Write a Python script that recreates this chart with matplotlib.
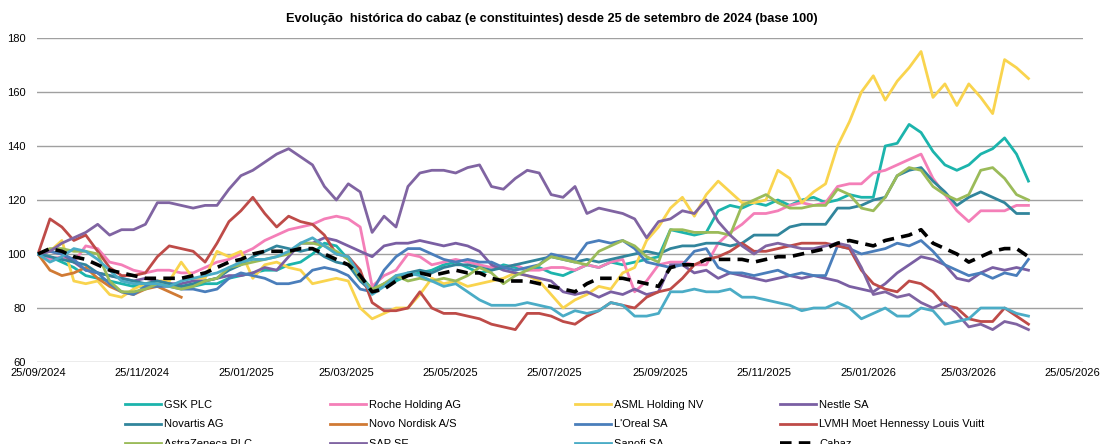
import numpy as np
import pandas as pd
import matplotlib
matplotlib.use("Agg")
import matplotlib.pyplot as plt
import matplotlib.dates as mdates

plt.rcParams['font.family'] = ['Liberation Sans', 'DejaVu Sans']

dates = pd.date_range('2024-09-25', periods=84, freq='7D')

gsk = [100,99,97,95,92,91,90,89,88,88,
       88,89,88,88,89,89,91,92,93,94,
       94,96,97,100,104,103,98,92,87,88,
       90,92,93,94,96,97,95,93,94,96,
       95,94,95,93,92,94,96,95,97,96,
       97,98,99,109,108,107,108,116,118,117,
       119,118,120,118,120,121,119,120,122,121,
       121,140,141,148,145,138,133,131,133,137,
       139,143,137,127]
roche = [100,98,99,97,103,102,97,96,94,93,
         94,94,93,93,95,97,98,100,102,105,
         107,109,110,111,113,114,113,110,88,92,
         94,100,99,96,97,98,97,96,95,95,
         96,94,94,95,95,94,96,95,97,98,
         86,90,96,97,97,96,96,104,108,111,
         115,115,116,118,119,118,119,125,126,126,
         130,131,133,135,137,128,122,116,112,116,
         116,116,118,118]
asml = [100,101,105,90,89,90,85,84,87,89,
        90,90,97,91,91,101,99,101,91,96,
        97,95,94,89,90,91,90,80,76,78,
        80,80,85,91,89,90,88,89,90,91,
        93,92,90,85,80,83,85,88,87,93,
        95,105,110,117,121,114,122,127,123,119,
        119,120,131,128,119,123,126,140,149,160,
        166,157,164,169,175,158,163,155,163,158,
        152,172,169,165]
nestle = [100,101,100,97,94,93,92,91,90,91,
          90,89,89,90,90,91,92,92,93,95,
          94,99,104,104,106,105,103,101,99,103,
          104,104,105,104,103,104,103,101,96,94,
          93,92,91,90,86,85,86,84,86,85,
          87,85,86,96,96,93,94,91,93,92,
          91,90,91,92,91,92,91,90,88,87,
          86,89,93,96,99,98,96,91,90,93,
          95,94,95,94]
novartis = [100,99,98,97,96,93,92,91,90,89,
            90,89,88,89,90,91,94,96,99,101,
            103,102,101,102,99,97,96,90,86,89,
            91,93,94,93,95,96,96,95,94,95,
            96,97,98,99,98,97,98,97,98,99,
            100,101,100,102,103,103,104,104,103,104,
            107,107,107,110,111,111,111,117,117,118,
            120,121,129,131,132,127,123,118,121,123,
            121,119,115,115]
novo = [100,94,92,93,95,91,88,86,85,87,
        88,86,84] + [np.nan] * 71
loreal = [100,101,100,98,94,93,89,86,85,88,
          88,88,87,87,86,87,91,93,92,91,
          89,89,90,94,95,94,92,87,86,94,
          99,102,102,100,98,97,98,97,97,95,
          94,95,96,100,99,98,104,105,104,105,
          102,97,96,95,96,101,102,95,93,93,
          92,93,94,92,93,92,92,103,102,100,
          101,102,104,103,105,101,96,94,92,93,
          91,93,92,98]
lvmh = [100,113,110,105,107,101,95,92,92,93,
        99,103,102,101,97,104,112,116,121,115,
        110,114,112,111,107,100,99,94,82,79,
        79,80,86,80,78,78,77,76,74,73,
        72,78,78,77,75,74,77,79,82,81,
        80,84,86,87,91,96,98,99,101,104,
        101,101,102,103,104,104,104,103,102,94,
        89,87,86,90,89,86,81,80,76,75,
        75,80,77,74]
astra = [100,102,102,101,101,100,90,86,86,87,
         89,88,87,88,90,91,95,96,97,98,
         99,100,104,104,103,101,98,91,87,89,
         92,90,91,90,91,90,92,95,93,89,
         92,94,96,99,98,97,96,101,103,105,
         103,99,97,109,109,108,108,108,107,118,
         120,122,119,117,117,118,118,124,122,117,
         116,121,129,132,131,125,122,120,122,131,
         132,128,122,120]
sap = [100,101,104,106,108,111,107,109,109,111,
       119,119,118,117,118,118,124,129,131,134,
       137,139,136,133,125,120,126,123,108,114,
       110,125,130,131,131,130,132,133,125,124,
       128,131,130,122,121,125,115,117,116,115,
       113,106,112,113,116,115,120,112,107,103,
       100,103,104,103,102,102,103,104,103,95,
       85,86,84,85,82,80,82,78,73,74,
       72,75,74,72]
sanofi = [100,97,99,102,101,98,94,90,89,89,
          89,88,90,91,92,93,95,97,98,98,
          99,101,104,106,103,100,99,92,85,88,
          92,93,92,90,88,89,86,83,81,81,
          81,82,81,80,77,79,78,79,82,81,
          77,77,78,86,86,87,86,86,87,84,
          84,83,82,81,79,80,80,82,80,76,
          78,80,77,77,80,79,74,75,76,80,
          80,80,78,77]
cabaz = [100,102,101,99,98,96,94,93,92,91,
         91,91,91,92,93,95,97,98,100,101,
         101,101,102,102,100,98,96,92,86,87,
         90,92,93,92,93,94,93,93,91,90,
         90,90,89,88,87,86,89,91,91,91,
         90,89,88,95,96,96,98,98,98,98,
         97,98,99,99,100,101,102,104,105,104,
         103,105,106,107,109,104,102,100,97,99,
         101,102,102,99]

series_names = ['GSK PLC', 'Roche Holding AG', 'ASML Holding NV', 'Nestle SA',
                'Novartis AG', 'Novo Nordisk A/S', "L'Oreal SA", 'LVMH Moet Hennessy Louis Vuitt',
                'AstraZeneca PLC', 'SAP SE', 'Sanofi SA', 'Cabaz']
series_values = [gsk, roche, asml, nestle, novartis, novo, loreal, lvmh, astra, sap, sanofi, cabaz]
colors = ['#1CB4AC', '#F47FB8', '#F9D44E', '#7A5FA3',
          '#31859C', '#D07A34', '#4A7EBB', '#BE4B48',
          '#9BBB59', '#8064A2', '#4BACC6', '#000000']

W, H = 1105, 444
fig = plt.figure(figsize=(W / 100, H / 100), dpi=100)
ax = fig.add_axes([37 / W, 1 - 362 / H, (1083 - 37) / W, (362 - 38) / H])

handles = []
for name, vals, col in zip(series_names, series_values, colors):
    if name == 'Cabaz':
        ln, = ax.plot(dates, vals, color=col, lw=2.6, dashes=(3.2, 2.0), label=name, zorder=5)
    else:
        ln, = ax.plot(dates, vals, color=col, lw=2.0, label=name, zorder=3)
    handles.append(ln)

start = pd.Timestamp('2024-09-25')
ax.set_xlim(start - pd.Timedelta(days=0.6), start + pd.Timedelta(days=613))
ax.set_ylim(60, 180)
ax.set_yticks(np.arange(60, 181, 20))
tick_dates = pd.date_range('2024-09-01', '2026-05-01', freq='2MS') + pd.Timedelta(days=24)
ax.set_xticks(tick_dates)
ax.xaxis.set_major_formatter(mdates.DateFormatter('%d/%m/%Y'))
ax.tick_params(axis='both', length=0, labelsize=8, colors='#000000')
ax.tick_params(axis='y', pad=8)
ax.tick_params(axis='x', pad=4)
ax.grid(axis='y', color='#A0A0A0', lw=1.0)
ax.set_axisbelow(True)
for s in ax.spines.values():
    s.set_visible(False)

fig.text(552 / W, 1 - 19 / H, 'Evolução  histórica do cabaz (e constituintes) desde 25 de setembro de 2024 (base 100)',
         ha='center', va='center', fontsize=9.2, fontweight='bold')

col_x = [125, 330, 575, 780]
for c in range(4):
    hs = [handles[r * 4 + c] for r in range(3)]
    fig.legend(handles=hs, labels=[h.get_label() for h in hs], loc='upper left',
               bbox_to_anchor=(col_x[c] / W, 1 - 400 / H), frameon=False, fontsize=8,
               handlelength=3.2, handletextpad=0.35, labelspacing=0.85,
               borderpad=0, borderaxespad=0)

fig.savefig('out.png', dpi=100)
